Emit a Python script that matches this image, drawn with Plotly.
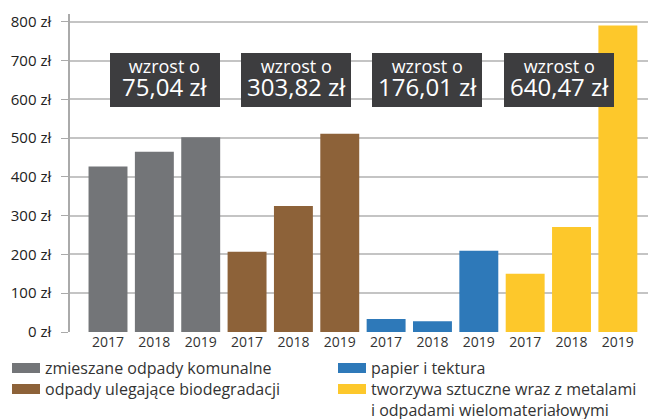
import plotly.graph_objects as go

# ---- data ----
years = ["2017", "2018", "2019"]
series_names = [
    "zmieszane odpady komunalne",
    "odpady ulegające biodegradacji",
    "papier i tektura",
    "tworzywa sztuczne wraz z metalami<br>i odpadami wielomateriałowymi",
]
values_mixed = [427, 465, 502]
values_bio = [207, 325, 511]
values_paper = [33.5, 28, 209.5]
values_plastic = [150, 271, 790.5]
increase_labels = ["75,04 zł", "303,82 zł", "176,01 zł", "640,47 zł"]
y_ticks = [0, 100, 200, 300, 400, 500, 600, 700, 800]
y_tick_labels = [f"{v} zł" for v in y_ticks]

colors = ["#737578", "#8d6239", "#2e79b9", "#fdc82b"]
all_values = [values_mixed, values_bio, values_paper, values_plastic]

W, H = 648, 419
ML, MR, MT, MB = 70, 0, 14, 87
PW, PH = W - ML - MR, H - MT - MB

fig = go.Figure()
xvals_all, xtext_all = [], []
for g, (name, vals, col) in enumerate(zip(series_names, all_values, colors)):
    xs = [g * len(years) + i for i in range(len(years))]
    xvals_all += xs
    xtext_all += years
    fig.add_trace(go.Bar(x=xs, y=vals, name=name.replace("<br>", " "), marker_color=col,
                         marker_line_width=0, showlegend=False))

def px_to_paper_x(px):
    return (px - ML) / PW

def px_to_paper_y(py):
    return (H - MB - py) / PH

annotations = []
shapes = []
# increase boxes (placed between bars, in pixel-sized boxes)
box_cx_px = [165, 296, 427, 559]
box_cy_px = 80
for cx, lab in zip(box_cx_px, increase_labels):
    shapes.append(dict(type="rect", xref="paper", yref="paper",
                       x0=px_to_paper_x(cx - 55), x1=px_to_paper_x(cx + 55),
                       y0=px_to_paper_y(box_cy_px + 27), y1=px_to_paper_y(box_cy_px - 27),
                       fillcolor="#3d3d3f", line_width=0, layer="above"))
    annotations.append(dict(x=px_to_paper_x(cx), y=px_to_paper_y(box_cy_px),
                            xref="paper", yref="paper", xanchor="center", yanchor="middle",
                            yshift=1,
                            text=f"wzrost o<br><span style='font-size:24px'>{lab}</span>",
                            showarrow=False, align="center", borderpad=0,
                            font=dict(size=18, color="white", family="Open Sans, sans-serif")))

# legend (manual)
legend_pos = [(12, 368), (12, 389), (338, 368), (338, 389)]
for (lx, ly), name, col in zip(legend_pos, series_names, colors):
    shapes.append(dict(type="rect", xref="paper", yref="paper",
                       x0=px_to_paper_x(lx), x1=px_to_paper_x(lx + 28),
                       y0=px_to_paper_y(ly + 5), y1=px_to_paper_y(ly - 5),
                       fillcolor=col, line_width=0))
    annotations.append(dict(x=px_to_paper_x(lx + 32), y=px_to_paper_y(ly - 12),
                            xref="paper", yref="paper", xanchor="left", yanchor="top",
                            text=name, showarrow=False, align="left", borderpad=0,
                            font=dict(size=16, color="#333333", family="Open Sans, sans-serif")))

fig.update_layout(
    width=W, height=H,
    margin=dict(l=ML, r=MR, t=MT, b=MB),
    plot_bgcolor="white", paper_bgcolor="white",
    bargap=0.16,
    font=dict(family="Open Sans, sans-serif", color="#333333"),
    annotations=annotations, shapes=shapes,
)
fig.update_xaxes(range=[-0.82, 11.65], tickvals=xvals_all, ticktext=xtext_all,
                 showgrid=False, showline=False, zeroline=False, ticks="",
                 tickfont=dict(size=14, color="#333333"))
fig.update_yaxes(range=[0, 820], tickvals=y_ticks, ticktext=y_tick_labels,
                 showgrid=True, gridcolor="#c4c4c4", gridwidth=1.8,
                 showline=True, linecolor="#aaaaaa", linewidth=1.5,
                 ticks="outside", ticklen=7, tickcolor="#aaaaaa", zeroline=False,
                 ticklabelstandoff=7,
                 tickfont=dict(size=15, color="#222222"))

fig.write_html("out.html", config={"displayModeBar": False},
               post_script="document.body.style.margin='0';document.body.style.overflow='hidden';")
